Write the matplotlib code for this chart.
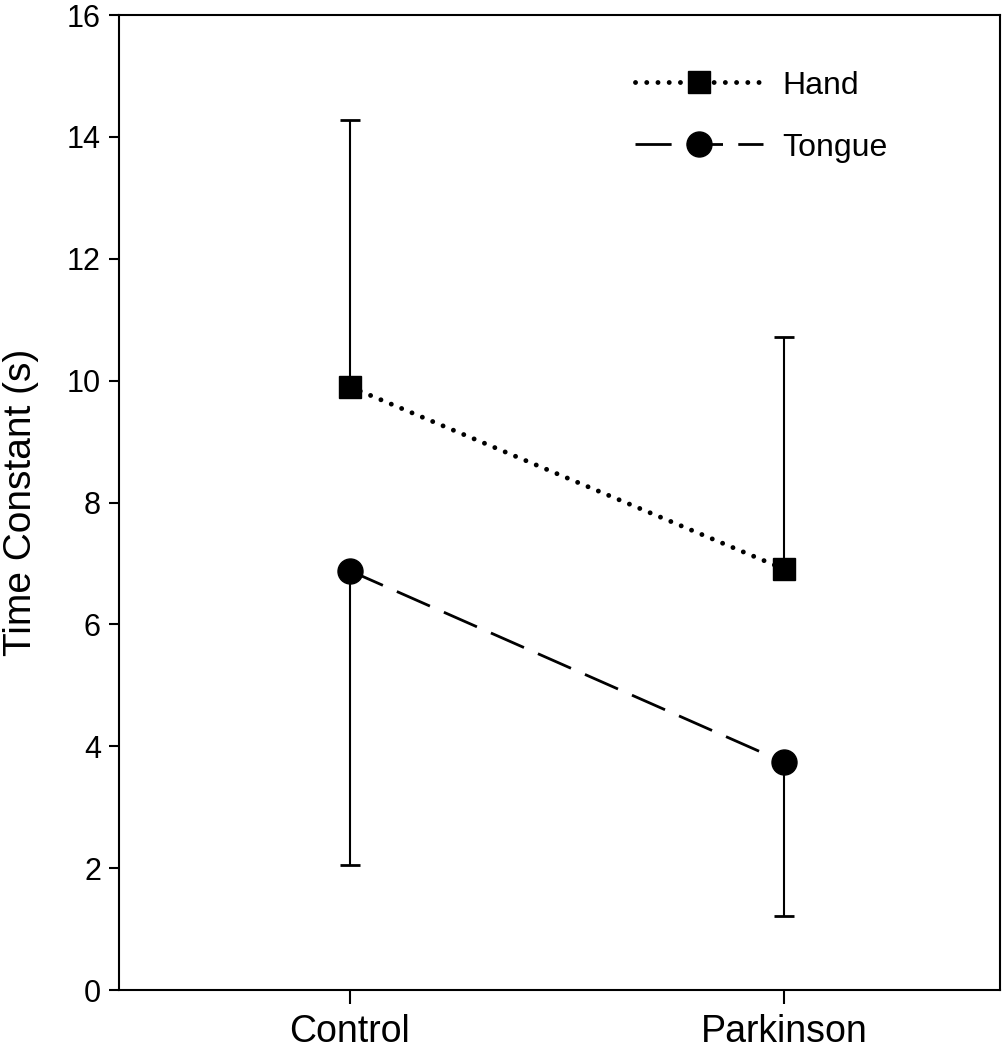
import numpy as np
import matplotlib
matplotlib.use('Agg')
import matplotlib.pyplot as plt

plt.rcParams['font.family'] = ['Liberation Sans', 'DejaVu Sans']

groups = ['Control', 'Parkinson']
hand_mean = [9.90, 6.91]
hand_err_up = [4.38, 3.81]
tongue_mean = [6.88, 3.74]
tongue_err_down = [4.83, 2.52]

x = np.arange(len(groups))

fig = plt.figure(figsize=(10.03, 10.5), dpi=100)
ax = fig.add_axes([0.1186, 0.0571, 0.8784, 0.9286])

# error bars (one-sided)
ax.errorbar(x, hand_mean, yerr=[np.zeros(2), hand_err_up], fmt='none',
            ecolor='black', elinewidth=1.5, capsize=7.5, capthick=2, zorder=2)
ax.errorbar(x, tongue_mean, yerr=[tongue_err_down, np.zeros(2)], fmt='none',
            ecolor='black', elinewidth=1.5, capsize=7.5, capthick=2, zorder=2)

l1, = ax.plot(x, hand_mean, color='black', lw=3.5, marker='s', markersize=16,
              label='Hand', zorder=3, dash_capstyle='round')
l1.set_dashes((0.01, 2.3))
l2, = ax.plot(x, tongue_mean, color='black', lw=2, marker='o', markersize=18,
              label='Tongue', zorder=3)
l2.set_dashes((13, 5.5))

ax.set_xlim(-0.532, 1.498)
ax.set_ylim(0, 16)
ax.set_yticks(range(0, 17, 2))
ax.set_xticks(x)
ax.set_xticklabels(groups, fontsize=27)
ax.tick_params(axis='y', labelsize=22, length=7, width=1.5, direction='out', pad=6)
ax.tick_params(axis='x', length=10, width=1.5, direction='out', pad=7)
for s in ax.spines.values():
    s.set_linewidth(1.5)
ax.set_ylabel('Time Constant (s)', fontsize=28, labelpad=20)

ax.legend(loc='upper left', bbox_to_anchor=(0.586, 0.943), frameon=False,
          fontsize=23, handlelength=4, handletextpad=0.6, labelspacing=1.0,
          borderpad=0, borderaxespad=0, numpoints=1)

fig.savefig('out.png', dpi=100)
